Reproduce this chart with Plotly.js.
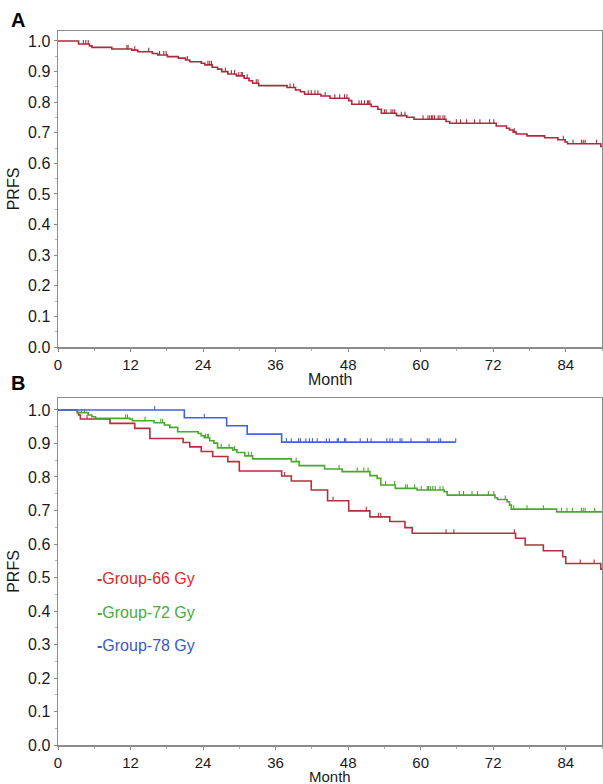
<!DOCTYPE html>
<html>
<head>
<meta charset="utf-8">
<script src="https://cdn.plot.ly/plotly-3.0.1.min.js"></script>
<style>html,body{margin:0;padding:0;background:#fff;}#chart{width:603px;height:784px;}</style>
</head>
<body>
<div id="chart"></div>
<script>
// ---- Panel A: all patients ----
const timesA = [3.4, 5.2, 5.6, 8.9, 12.2, 13.2, 15.6, 16.5, 18.1, 19.9, 21.1, 21.8, 23.7, 24.3, 25.5, 26.4, 27.1, 28.1, 29.5, 30.8, 31.6, 32.2, 33.2, 37.9, 39.3, 40.1, 40.8, 43.5, 45.0, 48.1, 48.6, 51.8, 52.9, 53.5, 56.0, 57.7, 58.9, 64.2, 64.8, 72.5, 74.2, 74.7, 75.3, 75.8, 77.6, 80.5, 82.7, 83.9, 84.3, 89.8];
const survA = [0.990, 0.984, 0.979, 0.974, 0.970, 0.965, 0.959, 0.954, 0.949, 0.944, 0.938, 0.932, 0.927, 0.922, 0.914, 0.908, 0.900, 0.892, 0.886, 0.878, 0.870, 0.862, 0.854, 0.848, 0.840, 0.834, 0.826, 0.820, 0.813, 0.805, 0.793, 0.786, 0.777, 0.764, 0.756, 0.751, 0.744, 0.737, 0.731, 0.722, 0.715, 0.709, 0.702, 0.696, 0.690, 0.684, 0.677, 0.670, 0.664, 0.655];
const censorA = [4.2, 4.6, 5.0, 11.4, 11.6, 12.7, 15.0, 16.8, 17.5, 17.9, 21.4, 24.8, 25.1, 25.4, 27.7, 28.7, 29.2, 29.9, 30.3, 30.5, 31.3, 32.8, 33.1, 38.4, 39.0, 41.4, 41.9, 42.5, 43.0, 44.2, 45.8, 46.6, 47.4, 47.8, 49.8, 50.2, 50.7, 51.2, 51.4, 51.6, 54.0, 54.3, 55.1, 55.4, 55.7, 56.8, 57.4, 60.4, 61.2, 61.5, 61.8, 62.0, 62.3, 62.9, 63.2, 63.7, 64.0, 65.9, 66.6, 67.6, 68.9, 69.8, 71.4, 72.1, 75.5, 83.6, 85.2, 86.6, 86.9, 87.2, 89.1];
const endA = 90;

// ---- Panel B: dose groups ----
const groupNames = ["Group-66 Gy", "Group-72 Gy", "Group-78 Gy"];
const times66 = [3.2, 3.4, 3.7, 8.6, 12.7, 15.2, 20.7, 21.8, 23.7, 25.6, 28.1, 30.0, 37.0, 38.6, 41.9, 44.6, 48.1, 51.6, 54.9, 57.4, 58.6, 75.7, 77.3, 80.3, 83.5, 84.0, 89.8];
const surv66 = [0.992, 0.985, 0.973, 0.960, 0.945, 0.915, 0.903, 0.890, 0.876, 0.861, 0.846, 0.818, 0.803, 0.788, 0.761, 0.729, 0.699, 0.681, 0.667, 0.649, 0.632, 0.617, 0.597, 0.580, 0.562, 0.542, 0.525];
const censor66 = [4.8, 37.5, 45.5, 51.0, 53.0, 53.4, 64.2, 65.5, 75.5, 86.4, 88.7];
const end66 = 90;

const times72 = [3.2, 5.0, 5.6, 6.2, 11.9, 12.3, 15.9, 17.6, 18.5, 19.8, 23.2, 23.7, 24.2, 25.1, 25.8, 26.4, 28.9, 29.6, 30.9, 32.2, 38.6, 39.9, 44.1, 47.0, 51.6, 52.8, 53.4, 55.8, 59.4, 63.9, 64.4, 72.3, 72.7, 74.3, 74.7, 75.0, 82.5];
const surv72 = [0.992, 0.985, 0.980, 0.975, 0.973, 0.968, 0.962, 0.955, 0.948, 0.935, 0.930, 0.923, 0.917, 0.908, 0.901, 0.887, 0.881, 0.873, 0.863, 0.854, 0.846, 0.834, 0.824, 0.816, 0.804, 0.796, 0.776, 0.766, 0.761, 0.756, 0.746, 0.738, 0.733, 0.726, 0.716, 0.704, 0.696];
const censor72 = [3.9, 4.4, 11.2, 11.5, 14.4, 17.0, 17.3, 24.4, 24.7, 24.9, 27.0, 28.3, 29.2, 31.5, 32.0, 39.4, 46.5, 49.5, 50.6, 51.3, 54.2, 55.7, 57.5, 57.8, 59.0, 60.1, 61.1, 61.3, 61.6, 62.0, 62.4, 63.2, 63.7, 66.4, 67.1, 68.5, 69.4, 71.2, 72.1, 74.0, 75.4, 77.6, 80.3, 83.3, 84.2, 85.1, 86.6, 86.9, 87.2, 88.8];
const end72 = 90;

const times78 = [20.9, 27.9, 31.3, 37.0];
const surv78 = [0.977, 0.953, 0.928, 0.904];
const censor78 = [16.0, 24.2, 37.8, 38.6, 39.8, 40.1, 41.0, 41.6, 42.1, 42.9, 44.4, 44.9, 46.2, 46.4, 47.4, 47.6, 50.0, 51.2, 51.8, 54.4, 54.9, 55.3, 56.6, 56.9, 58.4, 61.1, 61.4, 63.0, 63.3, 65.8];
const end78 = 65.8;

const xTicks = [0, 12, 24, 36, 48, 60, 72, 84];

// ---- helpers ----
function survAt(times, surv, t) {
  let s = 1;
  for (let i = 0; i < times.length; i++) { if (times[i] <= t) s = surv[i]; }
  return s;
}
function kmTraces(times, surv, censors, end, color, xa, ya, name, tickH) {
  const x = [0].concat(times, [end]);
  const y = [1].concat(surv, [surv.length ? surv[surv.length - 1] : 1]);
  return [
    {x: x, y: y, type: 'scatter', mode: 'lines', line: {shape: 'hv', color: color, width: 1.6},
     xaxis: xa, yaxis: ya, name: name, showlegend: false, hoverinfo: 'skip'},
    // censor marks: short vertical ticks standing on the curve
    {x: censors, y: censors.map(t => survAt(times, surv, t)), type: 'scatter', mode: 'markers',
     marker: {size: 1, color: color, opacity: 0},
     error_y: {type: 'constant', symmetric: false, value: tickH, valueminus: 0, width: 0, thickness: 1.1, color: color},
     xaxis: xa, yaxis: ya, showlegend: false, hoverinfo: 'skip'}
  ];
}

const cA = '#b0283c', c66 = '#b3303c', c72 = '#4aa82c', c78 = '#4262e6';
const data = [].concat(
  kmTraces(timesA, survA, censorA, endA, cA, 'x', 'y', 'All', 0.013),
  kmTraces(times66, surv66, censor66, end66, c66, 'x2', 'y2', groupNames[0], 0.012),
  kmTraces(times72, surv72, censor72, end72, c72, 'x2', 'y2', groupNames[1], 0.012),
  kmTraces(times78, surv78, censor78, end78, c78, 'x2', 'y2', groupNames[2], 0.012)
);

const FONT = 'Liberation Sans, Arial, sans-serif';
function xAxis(dom, anchor) {
  return {domain: dom, anchor: anchor, range: [0, 90], tickmode: 'array', tickvals: xTicks,
    ticks: 'outside', ticklen: 3, tickwidth: 1, tickcolor: '#888',
    minor: {dtick: 6, tick0: 0, ticks: 'outside', ticklen: 2, tickcolor: '#aaa', showgrid: false},
    showline: true, mirror: true, linecolor: '#8c8c8c', linewidth: 1.5, showgrid: false, zeroline: false,
    tickfont: {family: FONT, size: 15, color: '#1a1a1a'}};
}
function yAxis(dom, anchor, top) {
  return {domain: dom, anchor: anchor, range: [0, top], tickmode: 'linear', tick0: 0, dtick: 0.1, tickformat: '.1f',
    ticks: 'outside', ticklen: 3, tickwidth: 1, tickcolor: '#888',
    minor: {dtick: 0.05, tick0: 0, ticks: 'outside', ticklen: 2, tickcolor: '#aaa', showgrid: false},
    showline: true, mirror: true, linecolor: '#8c8c8c', linewidth: 1.5, showgrid: false, zeroline: false,
    tickfont: {family: FONT, size: 16, color: '#1a1a1a'},
    title: {text: 'PRFS', font: {family: FONT, size: 16, color: '#1a1a1a'}, standoff: 4}};
}

const xd = [58/603, 602/603];
const xMid = (58 + 602) / 2 / 603;
const layout = {
  width: 603, height: 784,
  margin: {l: 0, r: 0, t: 0, b: 0},
  paper_bgcolor: '#fff', plot_bgcolor: '#fff',
  showlegend: false,
  xaxis: xAxis(xd, 'y'),
  yaxis: yAxis([(784-347)/784, (784-31)/784], 'x', 1.0326),
  xaxis2: xAxis(xd, 'y2'),
  yaxis2: yAxis([(784-745)/784, (784-398)/784], 'x2', 1.0358),
  annotations: [
    {text: '<b>A</b>', xref: 'paper', yref: 'paper', x: 18/603, y: 1 - 20/784, xanchor: 'center', yanchor: 'middle',
     showarrow: false, font: {family: FONT, size: 20, color: '#000'}},
    {text: '<b>B</b>', xref: 'paper', yref: 'paper', x: 18/603, y: 1 - 383/784, xanchor: 'center', yanchor: 'middle',
     showarrow: false, font: {family: FONT, size: 20, color: '#000'}},
    {text: 'Month', xref: 'paper', yref: 'paper', x: xMid, y: 1 - 380/784, xanchor: 'center', yanchor: 'middle',
     showarrow: false, font: {family: FONT, size: 16, color: '#1a1a1a'}},
    {text: 'Month', xref: 'paper', yref: 'paper', x: xMid, y: 0, xanchor: 'center', yanchor: 'bottom', yshift: -3,
     showarrow: false, font: {family: FONT, size: 15, color: '#1a1a1a'}},
    {text: '<b>-</b>' + groupNames[0], xref: 'x2', yref: 'y2', x: 6.1, y: 0.4985, xanchor: 'left', yanchor: 'middle',
     showarrow: false, font: {family: FONT, size: 16, color: '#e0282a'}},
    {text: '<b>-</b>' + groupNames[1], xref: 'x2', yref: 'y2', x: 6.1, y: 0.397, xanchor: 'left', yanchor: 'middle',
     showarrow: false, font: {family: FONT, size: 16, color: '#46ac3c'}},
    {text: '<b>-</b>' + groupNames[2], xref: 'x2', yref: 'y2', x: 6.1, y: 0.296, xanchor: 'left', yanchor: 'middle',
     showarrow: false, font: {family: FONT, size: 16, color: '#3a58c8'}}
  ]
};

Plotly.newPlot('chart', data, layout, {displayModeBar: false, staticPlot: true});
</script>
</body>
</html>
